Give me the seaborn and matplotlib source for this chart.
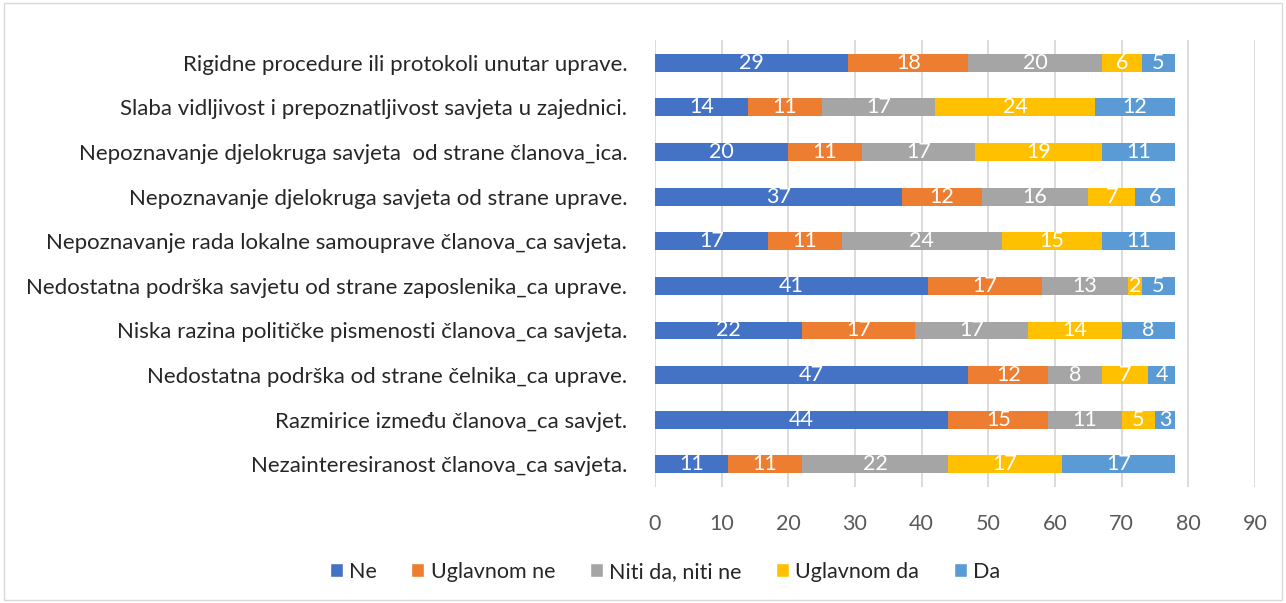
import matplotlib.pyplot as plt
import seaborn as sns
import pandas as pd
import numpy as np
from matplotlib.patches import Rectangle, Patch

categories = [
    'Rigidne procedure ili protokoli unutar uprave.',
    'Slaba vidljivost i prepoznatljivost savjeta u zajednici.',
    'Nepoznavanje djelokruga savjeta  od strane članova_ica.',
    'Nepoznavanje djelokruga savjeta od strane uprave.',
    'Nepoznavanje rada lokalne samouprave članova_ca savjeta.',
    'Nedostatna podrška savjetu od strane zaposlenika_ca uprave.',
    'Niska razina političke pismenosti članova_ca savjeta.',
    'Nedostatna podrška od strane čelnika_ca uprave.',
    'Razmirice između članova_ca savjet.',
    'Nezainteresiranost članova_ca savjeta.',
]
series = ['Ne', 'Uglavnom ne', 'Niti da, niti ne', 'Uglavnom da', 'Da']
ne = [29, 14, 20, 37, 17, 41, 22, 47, 44, 11]
uglavnom_ne = [18, 11, 11, 12, 11, 17, 17, 12, 15, 11]
niti = [20, 17, 17, 16, 24, 13, 17, 8, 11, 22]
uglavnom_da = [6, 24, 19, 7, 15, 2, 14, 7, 5, 17]
da = [5, 12, 11, 6, 11, 5, 8, 4, 3, 17]
colors = ['#4472C4', '#ED7D31', '#A5A5A5', '#FFC000', '#5B9BD5']

sns.set_style('white')
plt.rcParams['font.family'] = ['Lato', 'DejaVu Sans']

df = pd.DataFrame({'cat': categories, 'Ne': ne, 'Uglavnom ne': uglavnom_ne,
                   'Niti da, niti ne': niti, 'Uglavnom da': uglavnom_da, 'Da': da})
cum = df[series].cumsum(axis=1)

fig = plt.figure(figsize=(12.86, 6.03), dpi=100)
ax = fig.add_axes([0.5093, 0.193, 0.4666, 0.740])

# draw cumulative bars from the longest to the shortest
for s, c in reversed(list(zip(series, colors))):
    sns.barplot(x=cum[s], y=df['cat'], color=c, width=0.4, orient='h',
                ax=ax, saturation=1, edgecolor='none')

# value labels
for i in range(len(categories)):
    left = 0
    for s in series:
        v = df[s][i]
        ax.text(left + v / 2, i, str(v), ha='center', va='center',
                color='white', fontsize=15.5)
        left += v

ax.set_xlim(0, 90)
ax.set_ylim(9.5, -0.5)
ax.set_xticks(range(0, 91, 10))
ax.xaxis.grid(True, color='#D9D9D9', linewidth=1.3)
ax.set_axisbelow(True)
for sp in ax.spines.values():
    sp.set_visible(False)
ax.set_xlabel('')
ax.set_ylabel('')
ax.tick_params(axis='x', colors='#595959', labelsize=15.5, length=0, pad=20)
ax.tick_params(axis='y', colors='#262626', labelsize=16, length=0, pad=20)

handles = [Patch(facecolor=c, label=s) for s, c in zip(series, colors)]
fig.legend(handles=handles, loc='center', bbox_to_anchor=(0.517, 0.052), ncol=5,
           frameon=False, fontsize=15.5, handlelength=0.6, handleheight=0.6,
           handletextpad=0.3, columnspacing=1.6)

fig.patches.append(Rectangle((0.003, 0.005), 0.994, 0.99, transform=fig.transFigure,
                             fill=False, edgecolor='#D9D9D9', linewidth=1))

fig.savefig('out.png', dpi=100, facecolor='white')
